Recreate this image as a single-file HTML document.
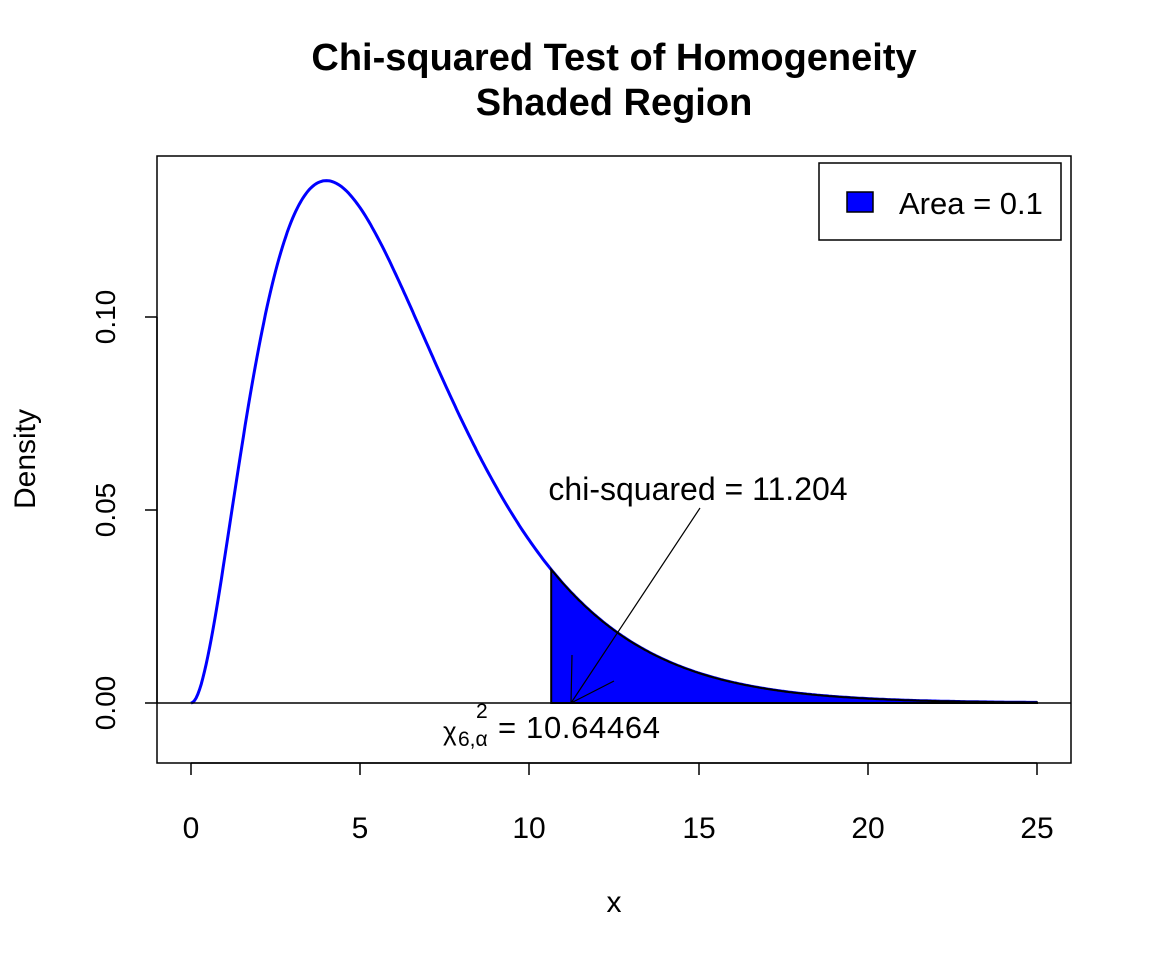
<!DOCTYPE html>
<html><head><meta charset="utf-8"><style>
body{margin:0;background:#fff}
svg text{font-family:"Liberation Sans",Arial,sans-serif}
</style></head><body>
<svg id="s" width="1152" height="960" xmlns="http://www.w3.org/2000/svg">
<rect width="1152" height="960" fill="#fff"/>
<text x="614" y="70" font-size="38" font-weight="bold" text-anchor="middle">Chi-squared Test of Homogeneity</text>
<text x="614" y="115" font-size="38" font-weight="bold" text-anchor="middle">Shaded Region</text>
<rect x="157" y="156" width="914" height="607" fill="none" stroke="#000" stroke-width="1.5"/>
<g stroke="#000" stroke-width="1.5">
<line x1="191" y1="763" x2="1037" y2="763"/>
<line x1="191" y1="763" x2="191" y2="775"/><line x1="360" y1="763" x2="360" y2="775"/>
<line x1="529" y1="763" x2="529" y2="775"/><line x1="699" y1="763" x2="699" y2="775"/>
<line x1="868" y1="763" x2="868" y2="775"/><line x1="1037" y1="763" x2="1037" y2="775"/>
<line x1="157" y1="703" x2="157" y2="317"/>
<line x1="157" y1="703" x2="145" y2="703"/><line x1="157" y1="510" x2="145" y2="510"/><line x1="157" y1="317" x2="145" y2="317"/>
</g>
<g font-size="30" text-anchor="middle">
<text x="191" y="838">0</text><text x="360" y="838">5</text><text x="529" y="838">10</text>
<text x="699" y="838">15</text><text x="868" y="838">20</text><text x="1037" y="838">25</text>
<text x="614" y="912">x</text>
<g font-size="28">
<text transform="translate(115,703) rotate(-90)">0.00</text>
<text transform="translate(115,510) rotate(-90)">0.05</text>
<text transform="translate(115,317) rotate(-90)">0.10</text>
</g>
<text transform="translate(35,459) rotate(-90)">Density</text>
</g>
<path id="curve" fill="none" stroke="#00f" stroke-width="3"/>
<path id="shade" fill="#00f" stroke="#000" stroke-width="2"/>
<line x1="157" y1="703" x2="1071" y2="703" stroke="#000" stroke-width="1.5"/>
<line x1="700" y1="508" x2="571" y2="703" stroke="#000" stroke-width="1.2"/>
<line x1="571" y1="703" x2="572" y2="655" stroke="#000" stroke-width="1.2"/>
<line x1="571" y1="703" x2="614" y2="681" stroke="#000" stroke-width="1.2"/>
<text x="698" y="500" font-size="32" text-anchor="middle">chi-squared = 11.204</text>
<text x="443" y="740" font-size="26">χ</text>
<text x="458" y="746" font-size="21">6,α</text>
<text x="476" y="718" font-size="21">2</text>
<text x="498" y="738" font-size="31" textLength="162">= 10.64464</text>
<rect x="819" y="163" width="242" height="77" fill="#fff" stroke="#000" stroke-width="1.5"/>
<rect x="847" y="192" width="26" height="20" fill="#00f" stroke="#000" stroke-width="1.5"/>
<text x="899" y="214" font-size="31">Area = 0.1</text>
</svg>
<script>
function f(x){return x*x*Math.exp(-x/2)/16}
function X(x){return 191+x*33.84}function Y(y){return 703-y*3860}
var d="";for(var i=0;i<=500;i++){var x=i*25/500;d+=(i?"L":"M")+X(x).toFixed(1)+","+Y(f(x)).toFixed(1)}
document.getElementById("curve").setAttribute("d",d);
var a=10.64464,s="M"+X(a)+","+Y(0);for(var i=0;i<=300;i++){var x=a+(25-a)*i/300;s+="L"+X(x).toFixed(1)+","+Y(f(x)).toFixed(1)}
s+="L"+X(25)+","+Y(0)+"Z";document.getElementById("shade").setAttribute("d",s);
</script>
</body></html>
